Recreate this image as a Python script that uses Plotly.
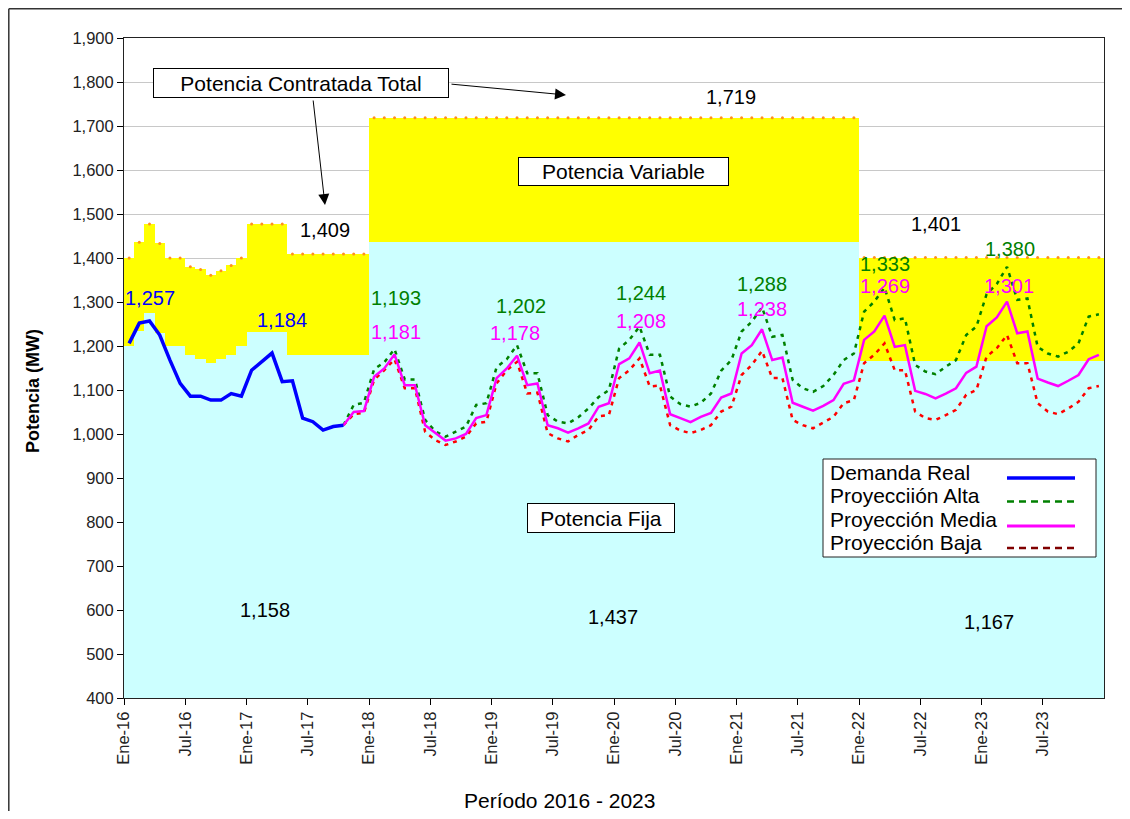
import plotly.graph_objects as go

# ---------------- data ----------------
tick_labels = ['Ene-16', 'Jul-16', 'Ene-17', 'Jul-17', 'Ene-18', 'Jul-18', 'Ene-19', 'Jul-19',
               'Ene-20', 'Jul-20', 'Ene-21', 'Jul-21', 'Ene-22', 'Jul-22', 'Ene-23', 'Jul-23']
n_months = 96
months = list(range(n_months))

potencia_total = ([1400, 1436, 1477, 1433, 1400, 1400, 1380, 1374, 1361, 1371, 1383, 1400,
                   1477, 1477, 1477, 1477, 1409, 1409, 1409, 1409, 1409, 1409, 1409, 1409]
                  + [1719] * 48 + [1401] * 24)
potencia_fija = ([1200, 1235, 1274, 1229, 1200, 1200, 1179, 1170, 1161, 1170, 1179, 1200,
                  1232, 1232, 1232, 1232, 1179, 1179, 1179, 1179, 1179, 1179, 1179, 1179]
                 + [1437] * 48 + [1167] * 24)

demanda_x = list(range(0, 22))
demanda_real = [1206, 1252, 1257, 1225, 1168, 1115, 1086, 1086, 1077, 1077, 1092, 1086,
                1145, 1164, 1184, 1119, 1121, 1036, 1028, 1009, 1017, 1020]

proy_x = list(range(21, 96))
proy_media = [1020, 1050, 1052,
              1130, 1149, 1181, 1111, 1111, 1020, 1002, 985, 990, 1000, 1036, 1043,
              1127, 1149, 1178, 1111, 1115, 1020, 1013, 1003, 1013, 1024, 1062, 1070,
              1159, 1172, 1208, 1138, 1144, 1045, 1036, 1027, 1039, 1048, 1083, 1092,
              1183, 1202, 1238, 1168, 1174, 1071, 1062, 1053, 1064, 1077, 1114, 1122,
              1214, 1233, 1269, 1198, 1202, 1098, 1091, 1081, 1092, 1104, 1139, 1153,
              1245, 1265, 1301, 1229, 1233, 1126, 1117, 1109, 1121, 1134, 1170, 1180]
proy_alta = [1020, 1066, 1071,
             1147, 1163, 1193, 1124, 1124, 1032, 1006, 994, 1006, 1017, 1066, 1070,
             1152, 1170, 1202, 1138, 1138, 1043, 1028, 1024, 1038, 1058, 1084, 1100,
             1194, 1214, 1244, 1180, 1180, 1085, 1068, 1062, 1071, 1092, 1144, 1168,
             1233, 1255, 1288, 1221, 1225, 1123, 1104, 1096, 1109, 1134, 1168, 1183,
             1278, 1301, 1333, 1259, 1263, 1157, 1142, 1136, 1153, 1168, 1225, 1244,
             1318, 1341, 1380, 1305, 1308, 1198, 1183, 1176, 1187, 1206, 1267, 1272]
proy_baja = [1020, 1045, 1048,
             1123, 1145, 1170, 1104, 1104, 1005, 986, 975, 983, 994, 1024, 1028,
             1115, 1145, 1164, 1092, 1094, 1002, 990, 983, 998, 1009, 1040, 1043,
             1127, 1145, 1172, 1108, 1110, 1020, 1008, 1002, 1009, 1020, 1051, 1062,
             1134, 1157, 1189, 1127, 1127, 1032, 1020, 1013, 1026, 1039, 1070, 1077,
             1161, 1180, 1206, 1145, 1145, 1051, 1036, 1032, 1043, 1055, 1089, 1100,
             1176, 1195, 1225, 1161, 1161, 1070, 1051, 1045, 1058, 1073, 1104, 1109]

# area value labels (text, month position, MW position)
area_label_text = ['1,409', '1,719', '1,401', '1,158', '1,437', '1,167']
area_label_x = [19.2, 59.0, 79.0, 13.3, 47.4, 84.2]
area_label_y = [1464, 1766, 1477, 600, 584, 573]

legend_names = ['Demanda Real', 'Proyecciión Alta', 'Proyección Media', 'Proyección Baja']

# ---------------- styles ----------------
FONT = 'Liberation Sans, Arial, sans-serif'
C_CYAN = '#CCFFFF'
C_YELLOW = '#FFFF00'
C_BLUE = '#0000FF'
C_GREEN = '#008000'
C_MAGENTA = '#FF00FF'
C_RED = '#FF0000'
C_DARKRED = '#800000'
LABEL_SIZE = 20
TEXT_SIZE = 21
TICK_SIZE = 16.5

# the page body adds an 8px margin, so the figure is sized to fit inside it
OFF = 8
W, H = 1130 - 2 * OFF, 819 - 2 * OFF
L, R, T, B = 124, 1104, 38, 698          # plot area in page pixels


def px(x):
    return (x - L) / (R - L)


def py(y):
    return (B - y) / (B - T)


fig = go.Figure()

fig.add_trace(go.Bar(x=months, y=potencia_total, width=1, marker=dict(color=C_YELLOW, line=dict(width=0)),
                     name='Potencia Variable', showlegend=False, hoverinfo='skip'))
fig.add_trace(go.Bar(x=months, y=potencia_fija, width=1, marker=dict(color=C_CYAN, line=dict(width=0)),
                     name='Potencia Fija', showlegend=False, hoverinfo='skip'))
fig.add_trace(go.Scatter(x=months, y=potencia_total, mode='markers',
                         marker=dict(size=3, color='#FF9020'), showlegend=False, hoverinfo='skip'))

fig.add_trace(go.Scatter(x=proy_x, y=proy_alta, mode='lines', name=legend_names[1],
                         line=dict(color=C_GREEN, width=2.5, dash='4px,5px'), showlegend=False))
fig.add_trace(go.Scatter(x=proy_x, y=proy_baja, mode='lines', name=legend_names[3],
                         line=dict(color=C_RED, width=2.5, dash='4px,5px'), showlegend=False))
fig.add_trace(go.Scatter(x=proy_x, y=proy_media, mode='lines', name=legend_names[2],
                         line=dict(color=C_MAGENTA, width=2.5), showlegend=False))
fig.add_trace(go.Scatter(x=demanda_x, y=demanda_real, mode='lines', name=legend_names[0],
                         line=dict(color=C_BLUE, width=3.5), showlegend=False))

annotations = []


def peak(xs, ys, lo, hi):
    best = None
    for xv, yv in zip(xs, ys):
        if lo <= xv < hi and (best is None or yv > best[1]):
            best = (xv, yv)
    return best


def ann(**kw):
    kw.setdefault('xanchor', 'center')
    kw.setdefault('yanchor', 'middle')
    kw.setdefault('showarrow', False)
    annotations.append(kw)


# demand peaks
for (lo, hi), (xs_, ys_) in zip([(0, 12), (12, 24)], [(0, 23), (10, 33)]):
    xv, yv = peak(demanda_x, demanda_real, lo, hi)
    ann(x=xv, y=yv, text=f'{yv:,}', xshift=xs_, yshift=ys_, font=dict(family=FONT, size=LABEL_SIZE, color=C_BLUE))

alta_shift = [(1, 51), (4, 39), (1, 34), (0, 23), (0, 23), (3, 18)]
media_shift = [(1, 22), (-2, 23), (1, 21), (0, 20), (0, 30), (2, 16)]
for k, yr in enumerate(range(2, 8)):
    lo, hi = yr * 12, yr * 12 + 12
    xv, yv = peak(proy_x, proy_alta, lo, hi)
    ann(x=xv, y=yv, text=f'{yv:,}', xshift=alta_shift[k][0], yshift=alta_shift[k][1],
        font=dict(family=FONT, size=LABEL_SIZE, color=C_GREEN))
    xv, yv = peak(proy_x, proy_media, lo, hi)
    ann(x=xv, y=yv, text=f'{yv:,}', xshift=media_shift[k][0], yshift=media_shift[k][1],
        font=dict(family=FONT, size=LABEL_SIZE, color=C_MAGENTA))

for t, xv, yv in zip(area_label_text, area_label_x, area_label_y):
    ann(x=xv, y=yv, text=t, font=dict(family=FONT, size=LABEL_SIZE, color='black'))

# text boxes
boxes = [('Potencia Contratada Total', 301, 83, 294, 28),
         ('Potencia Variable', 623.5, 171.5, 209, 27),
         ('Potencia Fija', 601, 518, 146, 28)]
for t, cx, cy, bw, bh in boxes:
    ann(xref='paper', yref='paper', x=px(cx), y=py(cy), text=t,
        width=bw, height=bh, bgcolor='white', bordercolor='black', borderwidth=1,
        borderpad=0, font=dict(family=FONT, size=TEXT_SIZE, color='black'))

# arrows
arrows = [((325, 205), (313, 99)), ((566, 95), (450, 84))]
for (hx, hy), (tx, ty) in arrows:
    ann(xref='paper', yref='paper', x=px(hx), y=py(hy), text='', showarrow=True,
        ax=tx - hx, ay=ty - hy, arrowhead=2, arrowsize=2.2, arrowwidth=1,
        arrowcolor='black', standoff=0, startstandoff=0)

# axis titles
ann(xref='paper', yref='paper', x=px(33), y=py(391), text='<b>Potencia (MW)</b>',
    textangle=-90, font=dict(family=FONT, size=18, color='black'))
ann(xref='paper', yref='paper', x=px(559), y=py(800), text='Período 2016 - 2023',
    font=dict(family=FONT, size=TEXT_SIZE, color='black'))

# custom legend
shapes = []
shapes.append(dict(type='rect', xref='paper', yref='paper', x0=px(823), x1=px(1096), y0=py(459), y1=py(557),
                   line=dict(color='#222', width=1), fillcolor='white', layer='above'))
leg_text_y = [472, 495.5, 519, 542.5]
leg_line_y = [478, 501.5, 526, 548]
leg_styles = [dict(color=C_BLUE, width=3.5), dict(color=C_GREEN, width=2.5, dash='7px,5px'),
              dict(color=C_MAGENTA, width=3), dict(color=C_DARKRED, width=2.5, dash='7px,5px')]
for name, ty, ly, st in zip(legend_names, leg_text_y, leg_line_y, leg_styles):
    ann(xref='paper', yref='paper', x=px(828), y=py(ty), xanchor='left', text=name,
        font=dict(family=FONT, size=TEXT_SIZE, color='black'))
    shapes.append(dict(type='line', xref='paper', yref='paper', x0=px(1007), x1=px(1075), y0=py(ly), y1=py(ly),
                       line=st, layer='above'))

# outer chart frame (top and left edges visible)
shapes.append(dict(type='line', xref='paper', yref='paper', x0=px(8.8), x1=px(1125), y0=py(8.8), y1=py(8.8),
                   line=dict(color='#333', width=1.5)))
shapes.append(dict(type='line', xref='paper', yref='paper', x0=px(8.8), x1=px(8.8), y0=py(8.8), y1=py(815),
                   line=dict(color='#333', width=1.5)))

fig.update_layout(
    width=W, height=H,
    margin=dict(l=L - OFF, r=(W + OFF) - R, t=T - OFF, b=(H + OFF) - B, pad=0),
    paper_bgcolor='white', plot_bgcolor='white',
    barmode='overlay', bargap=0,
    font=dict(family=FONT, size=TICK_SIZE, color='#222'),
    annotations=annotations, shapes=shapes,
    showlegend=False,
)
fig.update_xaxes(range=[-0.5, 95.5], tickmode='array',
                 tickvals=[-0.5 + 6 * i for i in range(len(tick_labels))], ticktext=tick_labels,
                 tickangle=-90, ticks='outside', ticklen=6, tickcolor='black',
                 showline=True, linecolor='#222', linewidth=1, mirror=True, showgrid=False,
                 tickfont=dict(family=FONT, size=TICK_SIZE, color='#222'), zeroline=False)
fig.update_yaxes(range=[400, 1900], dtick=100, tickformat=',d', ticks='outside', ticklen=6,
                 tickcolor='black', showline=True, linecolor='#222', linewidth=1, mirror=True,
                 showgrid=True, gridcolor='#C8C8C8', gridwidth=1, zeroline=False,
                 tickfont=dict(family=FONT, size=TICK_SIZE, color='#222'))

fig.write_html('out.html')
